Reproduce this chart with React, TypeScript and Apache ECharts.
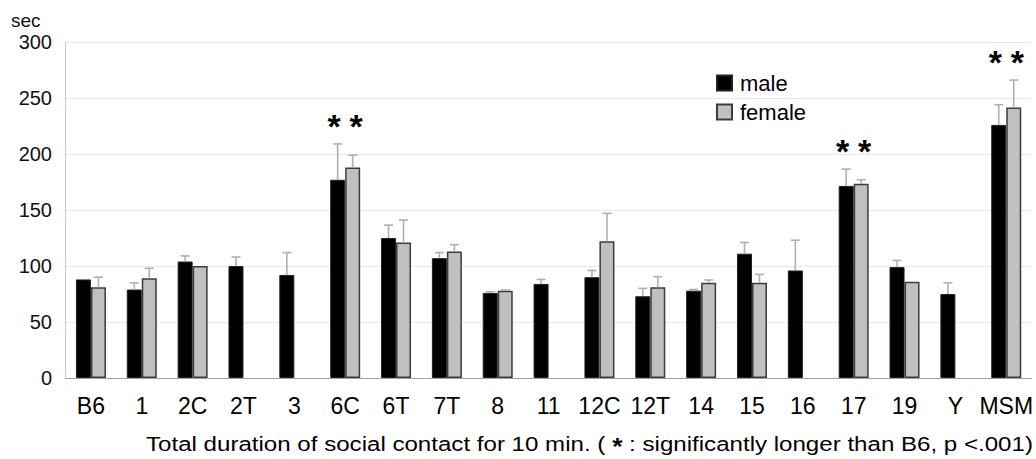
import React, { useEffect, useRef } from "react";
import * as echarts from "echarts";

// Strains on the x axis
const strains = ["B6", "1", "2C", "2T", "3", "6C", "6T", "7T", "8", "11", "12C", "12T", "14", "15", "16", "17", "19", "Y", "MSM"];

// Mean total contact time (sec) and upper error (SEM)
const maleMean = [88, 79, 104, 100, 92, 177, 125, 107, 76, 84, 90, 73, 78, 111, 96, 171.5, 99, 75, 226];
const maleErr = [0, 6, 5, 8, 20, 32, 11.5, 5, 1, 4, 6, 7, 1, 10, 27, 15, 6, 10, 18];
const femaleMean = [81, 89, 100, null, null, 188, 121, 113, 78, null, 122, 81, 85, 85, null, 173.5, 86, null, 241.5];
const femaleErr = [9, 9, 0, null, null, 11, 20, 6, 0.5, null, 25, 9.5, 2.5, 7.5, null, 3.5, 0, null, 24.5];

// Strains significantly longer than B6
const significant = ["6C", "17", "MSM"];

const yTicks = { min: 0, max: 300, step: 50 };

const FONT = '"Liberation Sans", Arial, Helvetica, sans-serif';
const BAR_W = 15;

const NOTE_PRE = "Total duration of social contact for 10 min. ( ";
const NOTE_STAR = "*";
const NOTE_POST = " : significantly longer than B6, p <.001)";

function measure(text: string, font: string) {
  const ctx = document.createElement("canvas").getContext("2d");
  if (!ctx) return text.length * 10;
  ctx.font = font;
  return ctx.measureText(text).width;
}

function errorSeries(means: (number | null)[], errs: (number | null)[], offset: number) {
  const data = means
    .map((m, i) => (m == null || errs[i] == null ? null : [i, m, errs[i]]))
    .filter((d) => d !== null);
  return {
    type: "custom",
    coordinateSystem: "cartesian2d",
    silent: true,
    z: 3,
    data,
    encode: { x: 0, y: 1 },
    renderItem: (_params: any, api: any) => {
      const i = api.value(0);
      const m = api.value(1);
      const e = api.value(2);
      if (!e) return null;
      const base = api.coord([i, m]);
      const top = api.coord([i, m + e]);
      const x = base[0] + offset;
      const style = { stroke: "#b0b0b0", lineWidth: 1.6 };
      return {
        type: "group",
        children: [
          { type: "line", shape: { x1: x, y1: base[1], x2: x, y2: top[1] }, style },
          { type: "line", shape: { x1: x - 4.5, y1: top[1], x2: x + 4.5, y2: top[1] }, style },
        ],
      };
    },
  };
}

export default function App() {
  const ref = useRef<HTMLDivElement>(null);

  useEffect(() => {
    if (!ref.current) return;
    const chart = echarts.init(ref.current, undefined, { renderer: "svg" });

    // Height used to place the significance marks above the taller error bar
    const starData = significant.map((s) => {
      const i = strains.indexOf(s);
      const mt = maleMean[i] + (maleErr[i] || 0);
      const ft = femaleMean[i] != null ? (femaleMean[i] as number) + (femaleErr[i] || 0) : 0;
      return [i, Math.max(mt, ft) + 18];
    });

    // Footnote: three pieces laid out in a row, widened to span the plot
    const noteFont = `21px ${FONT}`;
    const starFont = `bold 23px ${FONT}`;
    const wPre = measure(NOTE_PRE, noteFont);
    const wStar = measure(NOTE_STAR, starFont);
    const wPost = measure(NOTE_POST, noteFont);
    const noteLeft = 146;
    const noteRight = 1033;
    const noteScale = (noteRight - noteLeft) / (wPre + wStar + wPost);

    chart.setOption({
      animation: false,
      backgroundColor: "#ffffff",
      grid: { left: 65.5, right: 1.5, top: 42, bottom: 81, containLabel: false },
      legend: {
        data: [
          { name: "male", icon: "rect" },
          { name: "female", icon: "rect" },
        ],
        orient: "vertical",
        left: 716,
        top: 72,
        itemWidth: 15,
        itemHeight: 15,
        itemGap: 7,
        padding: 0,
        selectedMode: false,
        textStyle: { fontFamily: FONT, fontSize: 22, color: "#000", padding: [0, 0, 0, 3] },
      },
      xAxis: {
        type: "category",
        data: strains,
        axisLine: { show: true, lineStyle: { color: "#a0a0a0", width: 1.2 } },
        axisTick: { show: false },
        axisLabel: { fontFamily: FONT, fontSize: 23, color: "#000", margin: 16, interval: 0 },
      },
      yAxis: {
        type: "value",
        min: yTicks.min,
        max: yTicks.max,
        interval: yTicks.step,
        axisLine: { show: true, lineStyle: { color: "#c8c8c8" } },
        axisTick: { show: false },
        splitLine: { lineStyle: { color: "#e8e8e8" } },
        axisLabel: { fontFamily: FONT, fontSize: 20, color: "#111", margin: 13.5 },
      },
      graphic: [
        {
          type: "text",
          left: 11,
          top: 11,
          style: { text: "sec", font: `19px ${FONT}`, fill: "#111" },
        },
        {
          type: "group",
          x: noteLeft,
          y: 444,
          scaleX: noteScale,
          children: [
            {
              type: "text",
              x: 0,
              y: 0,
              style: { text: NOTE_PRE, font: noteFont, fill: "#000", align: "left", verticalAlign: "middle" },
            },
            {
              type: "text",
              x: wPre,
              y: 3,
              style: { text: NOTE_STAR, font: starFont, fill: "#000", align: "left", verticalAlign: "middle" },
            },
            {
              type: "text",
              x: wPre + wStar,
              y: 0,
              style: { text: NOTE_POST, font: noteFont, fill: "#000", align: "left", verticalAlign: "middle" },
            },
          ],
        },
      ],
      series: [
        {
          name: "male",
          type: "bar",
          data: maleMean,
          barWidth: BAR_W,
          barGap: "0%",
          itemStyle: { color: "#000000", borderColor: "#222", borderWidth: 1 },
          z: 2,
        },
        {
          name: "female",
          type: "bar",
          data: femaleMean,
          barWidth: BAR_W,
          barGap: "0%",
          itemStyle: { color: "#c0c0c0", borderColor: "#3c3c3c", borderWidth: 1.5 },
          z: 2,
        },
        errorSeries(maleMean, maleErr, -BAR_W / 2),
        errorSeries(femaleMean, femaleErr, BAR_W / 2),
        {
          type: "custom",
          coordinateSystem: "cartesian2d",
          silent: true,
          z: 4,
          data: starData,
          encode: { x: 0, y: 1 },
          renderItem: (_params: any, api: any) => {
            const p = api.coord([api.value(0), api.value(1)]);
            const mk = (dx: number) => ({
              type: "text",
              x: p[0] + dx,
              y: p[1] + 2,
              style: {
                text: "*",
                font: `bold 34px ${FONT}`,
                fill: "#000",
                align: "center",
                verticalAlign: "middle",
                textAlign: "center",
                textVerticalAlign: "middle",
              },
            });
            return { type: "group", children: [mk(-11), mk(11)] };
          },
        },
      ],
    });

    return () => chart.dispose();
  }, []);

  return (
    <div
      ref={ref}
      style={{ position: "absolute", left: 0, top: 0, width: 1036, height: 459, background: "#fff" }}
    />
  );
}
